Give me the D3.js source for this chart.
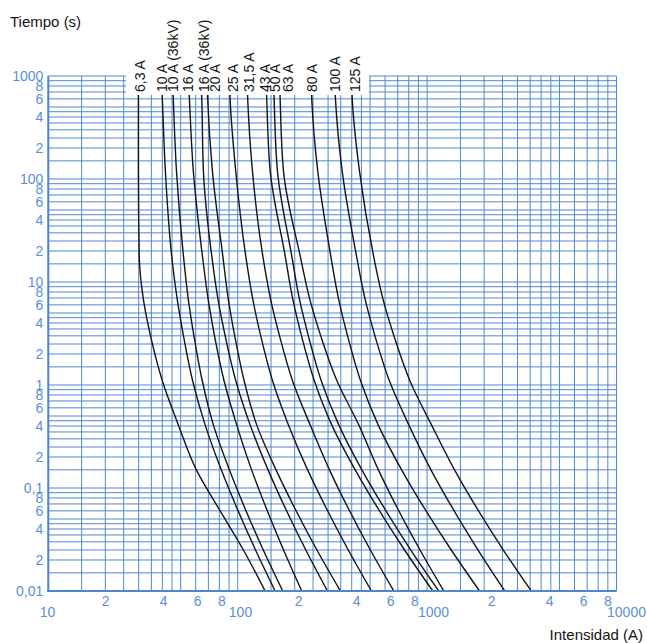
<!DOCTYPE html>
<html><head><meta charset="utf-8">
<script src="https://cdn.jsdelivr.net/npm/d3@7"></script>
<style>
body{margin:0;background:#fff}
text{font-family:"Liberation Sans",Arial,Helvetica,sans-serif}
</style>
</head><body>
<svg id="chart" width="647" height="643"></svg>
<script>
// ---------- data ----------
// melting times (s) at which each curve's current was read
const times = [1000, 600, 120, 18, 6.7, 2.9, 1.1, 0.41, 0.15, 0.064, 0.025, 0.01];
const curveLabels = ["6,3 A","10 A","10 A (36kV)","16 A","16 A (36kV)","20 A","25 A","31,5 A","43 A","50 A","63 A","80 A","100 A","125 A"];
// currents (A) for each curve, matching `times`
const amps_6_3A   = [29.9, 29.9, 29.9, 30.2, 31.8, 34.8, 40.0, 48.6, 60.5, 79.1, 107.2, 139.5];
const amps_10A    = [39.5, 40.0, 41.5, 44.8, 48.0, 51.9, 57.8, 67.3, 81.9, 99.0, 124.2, 157.6];
const amps_10A_36 = [45.2, 45.7, 47.5, 51.7, 54.9, 58.9, 65.0, 74.4, 90.4, 109.0, 136.5, 172.9];
const amps_16A    = [54.9, 55.6, 58.3, 65.1, 69.9, 75.7, 84.7, 98.8, 118.4, 141.4, 174.6, 217.8];
const amps_16A_36 = [63.9, 64.6, 65.9, 72.9, 78.8, 86.2, 97.7, 116.3, 144.6, 178.2, 228.9, 297.7];
const amps_20A    = [68.8, 69.4, 73.5, 83.4, 89.3, 96.8, 108.1, 126.0, 159.4, 199.8, 262.0, 348.7];
const amps_25A    = [90.4, 91.2, 97.6, 110.2, 120.3, 132.9, 152.7, 185.3, 234.0, 293.1, 383.5, 508.5];
const amps_31_5A  = [111.8, 112.9, 119.6, 135.6, 149.4, 167.1, 194.7, 241.3, 305.1, 382.6, 501.7, 667.2];
const amps_43A    = [140.9, 142.3, 148.4, 178.0, 195.7, 218.3, 253.9, 313.7, 417.1, 548.3, 760.5, 1072];
const amps_50A    = [154.4, 155.7, 162.1, 192.8, 212.3, 237.2, 276.1, 341.7, 452.4, 593.3, 820.1, 1153];
const amps_63A    = [166.1, 167.5, 174.4, 213.6, 240.7, 276.1, 334.2, 435.8, 553.1, 696.0, 917.6, 1225];
const amps_80A    = [243.6, 246.0, 264.6, 309.9, 341.7, 382.1, 445.3, 551.7, 733.5, 965.4, 1341, 1892];
const amps_100A   = [324.2, 328.2, 356.0, 423.6, 471.6, 533.2, 632.3, 800.4, 1048, 1360, 1858, 2573];
const amps_125A   = [398.6, 402.5, 439.4, 521.2, 586.4, 672.1, 811.1, 1055, 1396, 1828, 2526, 3548];

// axis tick values and labels
const gridMantissas = [1, 1.5, 2, 2.5, 3, 3.5, 4, 4.5, 5, 6, 7, 8, 9];
const xMinorTicks  = [20, 40, 60, 80, 200, 400, 600, 800, 2000, 4000, 6000, 8000];
const xMinorLabels = ["2","4","6","8","2","4","6","8","2","4","6","8"];
const xMajorTicks  = [10, 100, 1000, 10000];
const xMajorLabels = ["10","100","1000","10000"];
const yTicks  = [1000,800,600,400,200, 100,80,60,40,20, 10,8,6,4,2, 1,0.8,0.6,0.4,0.2, 0.1,0.08,0.06,0.04,0.02, 0.01];
const yLabels = ["1000","8","6","4","2", "100","8","6","4","2", "10","8","6","4","2", "1","8","6","4","2", "0,1","8","6","4","2", "0,01"];

// ---------- layout ----------
const GRID = "#4f86d1", TXT = "#5b8fd8", INK = "#141414";
const labelDx = [2, 1, 1, 0, 3, 8, 4, 2, -1, 1.5, 9, 1, 1, 4]; // label nudges (px)

const svg = d3.select("#chart");
const x = d3.scaleLog().domain([10, 10000]).range([48.3, 616.5]);
const y = d3.scaleLog().domain([0.01, 1000]).range([591, 76]);
const xLab = d3.scaleLog().domain([10, 10000]).range([47, 626]); // label placement scale

// gridlines
const gridX = [], gridY = [];
[10,100,1000].forEach(d => gridMantissas.forEach(m => gridX.push(d*m)));
gridX.push(10000);
[0.01,0.1,1,10,100].forEach(d => gridMantissas.forEach(m => gridY.push(d*m)));
gridY.push(1000);

const g = svg.append("g");
g.selectAll("line.vx").data(gridX).join("line")
  .attr("x1", d => x(d)).attr("x2", d => x(d))
  .attr("y1", y(1000)).attr("y2", y(0.01))
  .attr("stroke", GRID).attr("stroke-width", 1);
g.selectAll("line.hy").data(gridY).join("line")
  .attr("y1", d => y(d)).attr("y2", d => y(d))
  .attr("x1", x(10)).attr("x2", x(10000))
  .attr("stroke", GRID).attr("stroke-width", 1);

// curves
const allAmps = [amps_6_3A, amps_10A, amps_10A_36, amps_16A, amps_16A_36, amps_20A, amps_25A,
  amps_31_5A, amps_43A, amps_50A, amps_63A, amps_80A, amps_100A, amps_125A];
const series = curveLabels.map((lab, i) => ({label: lab, pts: allAmps[i].map((a, j) => [a, times[j]])}));
const line = d3.line().x(d => x(d[0])).y(d => y(d[1])).curve(d3.curveMonotoneY);
svg.append("g").selectAll("path").data(series).join("path")
  .attr("d", d => line(d.pts))
  .attr("fill", "none").attr("stroke", INK).attr("stroke-width", 1.4);

// white band behind the curve labels
svg.append("rect").attr("x", 126).attr("y", 60).attr("width", 243).attr("height", 35).attr("fill", "#fff");

// curve labels (rotated)
svg.append("g").selectAll("text").data(series).join("text")
  .attr("transform", (d, i) => `translate(${x(d.pts[0][0]) + labelDx[i] + 5},92) rotate(-90)`)
  .attr("font-size", 14).attr("fill", INK)
  .text(d => d.label);

// axes lines (thicker)
svg.append("line").attr("x1", x(10)).attr("x2", x(10)).attr("y1", y(1000)).attr("y2", y(0.01) + 1)
  .attr("stroke", GRID).attr("stroke-width", 2);
svg.append("line").attr("x1", x(10) - 1).attr("x2", x(10000)).attr("y1", y(0.01)).attr("y2", y(0.01))
  .attr("stroke", GRID).attr("stroke-width", 2);

// y axis labels
const yAxis = d3.axisLeft(y).tickValues(yTicks).tickFormat((d, i) => yLabels[i]).tickSize(0).tickPadding(5);
const ya = svg.append("g").attr("transform", `translate(${x(10)},0)`).call(yAxis);
ya.select(".domain").remove();
ya.selectAll("text").attr("font-size", 14).attr("fill", TXT).attr("font-family", "Liberation Sans, Arial, sans-serif");

// x axis labels: minor and decades
const xAxisMinor = d3.axisBottom(xLab).tickValues(xMinorTicks).tickFormat((d, i) => xMinorLabels[i]).tickSize(0).tickPadding(5);
const xa1 = svg.append("g").attr("transform", `translate(0,${y(0.01)})`).call(xAxisMinor);
const xAxisMajor = d3.axisBottom(xLab).tickValues(xMajorTicks).tickFormat((d, i) => xMajorLabels[i]).tickSize(0).tickPadding(16);
const xa2 = svg.append("g").attr("transform", `translate(0,${y(0.01)})`).call(xAxisMajor);
[xa1, xa2].forEach(a => {
  a.select(".domain").remove();
  a.selectAll("text").attr("font-size", 14).attr("fill", TXT).attr("font-family", "Liberation Sans, Arial, sans-serif");
});

// titles
svg.append("text").attr("x", 10).attr("y", 27).attr("font-size", 15).attr("fill", INK).text("Tiempo (s)");
svg.append("text").attr("x", 643).attr("y", 640).attr("text-anchor", "end").attr("font-size", 15).attr("fill", INK).text("Intensidad (A)");
</script>
</body></html>
